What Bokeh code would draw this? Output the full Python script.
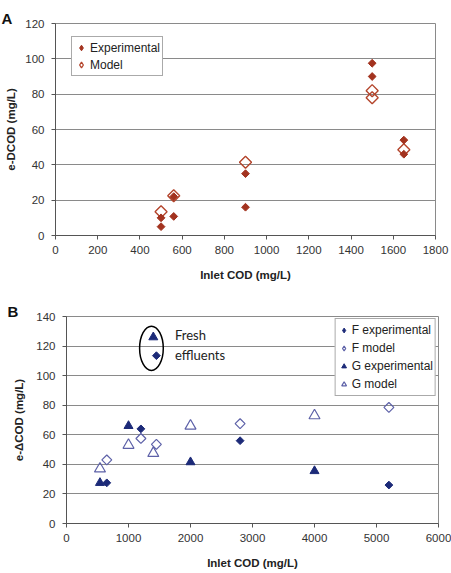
import numpy as np
from bokeh.plotting import figure
from bokeh.layouts import column
from bokeh.models import Range1d, FixedTicker, Legend, LegendItem
from bokeh.embed import file_html
from bokeh.resources import INLINE
from bokeh.core.properties import value

# ---- Panel A data ----
a_exp_x = [500, 500, 560, 560, 900, 900, 1500, 1500, 1650, 1650]
a_exp_y = [10, 5, 22, 10.8, 35, 16, 97.5, 90, 54, 46]
a_mod_x = [500, 560, 900, 1500, 1500, 1650]
a_mod_y = [13.5, 22.5, 41.5, 82, 78, 48.5]
a_xticks = [0, 200, 400, 600, 800, 1000, 1200, 1400, 1600, 1800]
a_yticks = [0, 20, 40, 60, 80, 100, 120]

# ---- Panel B data ----
f_exp_x = [650, 1200, 2800, 5200]
f_exp_y = [27.5, 64, 56, 26]
f_mod_x = [650, 1200, 1450, 2800, 5200]
f_mod_y = [43, 57.5, 53.5, 67.5, 78.5]
g_exp_x = [540, 1000, 2000, 4000]
g_exp_y = [27.5, 66, 41.5, 35.5]
g_mod_x = [540, 1000, 1400, 2000, 4000]
g_mod_y = [37, 53, 47.5, 66, 73]
fresh_g_x, fresh_g_y = [1400], [126]
fresh_f_x, fresh_f_y = [1450], [113.5]
b_xticks = [0, 1000, 2000, 3000, 4000, 5000, 6000]
b_yticks = [0, 20, 40, 60, 80, 100, 120, 140]

RED = "#a3331f"
RED_OPEN = "#b4452c"
NAVY = "#1c2a78"
NAVY_OPEN = "#5d61a8"
FONT = "Liberation Sans"
DIAMOND = np.pi / 4


def style(p, xticks, yticks, ylabel, letter, letter_offset, ylabel_standoff):
    p.xgrid.visible = False
    p.ygrid.grid_line_color = "#8a8a8a"
    p.ygrid.grid_line_width = 1
    p.ygrid.ticker = FixedTicker(ticks=yticks)
    p.outline_line_color = "#8a8a8a"
    p.outline_line_width = 1
    p.background_fill_color = "white"
    p.border_fill_color = "white"
    p.xaxis.ticker = FixedTicker(ticks=xticks)
    p.yaxis.ticker = FixedTicker(ticks=yticks)
    for ax in (p.xaxis[0], p.yaxis[0]):
        ax.axis_line_color = "#555555"
        ax.major_tick_line_color = "#555555"
        ax.major_tick_in = 0
        ax.major_tick_out = 4
        ax.minor_tick_line_color = None
        ax.major_label_text_font = FONT
        ax.major_label_text_font_size = "11.5px"
        ax.major_label_text_color = "#333333"
        ax.axis_label_text_font = FONT
        ax.axis_label_text_font_size = "11.5px"
        ax.axis_label_text_font_style = "bold"
        ax.axis_label_text_color = "#222222"
    p.xaxis.axis_label = "Inlet COD (mg/L)"
    p.yaxis.axis_label = ylabel
    p.xaxis.major_label_standoff = 6
    p.yaxis.major_label_standoff = 7
    p.xaxis.axis_label_standoff = 12
    p.yaxis.axis_label_standoff = ylabel_standoff
    p.title.text = letter
    p.title.align = "left"
    p.title.offset = letter_offset
    p.title.standoff = -6
    p.title.text_font = FONT
    p.title.text_font_size = "15px"
    p.title.text_font_style = "bold"
    p.title.text_color = "#111111"


def legend(items, location, margin, gw, gh):
    return Legend(items=items, location=location, border_line_color="#555555",
                  border_line_width=1, background_fill_color="white",
                  background_fill_alpha=1.0, inactive_fill_alpha=0.0,
                  label_text_font=FONT, label_text_font_size="12px",
                  label_text_color="#222222", glyph_width=gw, glyph_height=gh,
                  label_height=14, spacing=0, padding=2, margin=margin, label_standoff=2)


# ---- Panel A ----
pa = figure(width=451, height=290, x_range=Range1d(0, 1800), y_range=Range1d(0, 120),
            output_backend="svg", toolbar_location=None, frame_align=False,
            min_border_left=55, min_border_right=16, min_border_top=23, min_border_bottom=55)
style(pa, a_xticks, a_yticks, "e-DCOD (mg/L)", "A", -54, 5)

pa.scatter(a_mod_x, a_mod_y, marker="square", angle=DIAMOND, size=8.5,
           fill_color="white", fill_alpha=0.0, line_color=RED_OPEN, line_width=1.4)
pa.scatter(a_exp_x, a_exp_y, marker="square", angle=DIAMOND, size=5.5,
           fill_color=RED, line_color=RED, line_width=1)

# diamond keys for the legend (hidden in the plot area)
ka_exp = pa.scatter(a_exp_x[:1], a_exp_y[:1], marker="diamond", fill_color=RED,
                    line_color=RED, visible=False)
ka_mod = pa.scatter(a_mod_x[:1], a_mod_y[:1], marker="diamond", fill_color="white",
                    line_color=RED_OPEN, line_width=1.3, visible=False)
pa.add_layout(legend([LegendItem(label="Experimental", renderers=[ka_exp]),
                      LegendItem(label="Model", renderers=[ka_mod])],
                     (16, 159), 0, 14, 17))

# ---- Panel B ----
pb = figure(width=451, height=283, x_range=Range1d(0, 6000), y_range=Range1d(0, 140),
            output_backend="svg", toolbar_location=None, frame_align=False,
            min_border_left=66, min_border_right=13, min_border_top=26, min_border_bottom=50)
style(pb, b_xticks, b_yticks, "e-\u0394COD (mg/L)", "B", -59, 8)

pb.scatter(f_exp_x, f_exp_y, marker="square", angle=DIAMOND, size=5.5,
           fill_color=NAVY, line_color=NAVY)
pb.scatter(f_mod_x, f_mod_y, marker="square", angle=DIAMOND, size=7,
           fill_color="white", fill_alpha=0.0, line_color=NAVY_OPEN, line_width=1.2)
rg_exp = pb.scatter(g_exp_x, g_exp_y, marker="triangle", size=9,
                    fill_color=NAVY, line_color=NAVY)
rg_mod = pb.scatter(g_mod_x, g_mod_y, marker="triangle", size=11,
                    fill_color="white", fill_alpha=0.0, line_color=NAVY_OPEN, line_width=1.2)

# fresh-effluent callout
pb.scatter(fresh_g_x, fresh_g_y, marker="triangle", size=9, fill_color=NAVY, line_color=NAVY)
pb.scatter(fresh_f_x, fresh_f_y, marker="square", angle=DIAMOND, size=5.5,
           fill_color=NAVY, line_color=NAVY)
pb.ellipse(x=[1370], y=[118.5], width=[382], height=[30], fill_color=None,
           line_color="black", line_width=1.5)
pb.text(x=[1750, 1750], y=[127.6, 113.7], text=["Fresh", "effluents"],
        text_font=value("Lato"), text_font_size="13px", text_baseline="middle",
        text_color="#222222")

kb_fexp = pb.scatter(f_exp_x[:1], f_exp_y[:1], marker="diamond", fill_color=NAVY,
                     line_color=NAVY, visible=False)
kb_fmod = pb.scatter(f_mod_x[:1], f_mod_y[:1], marker="diamond", fill_color="white",
                     line_color=NAVY_OPEN, line_width=1.2, visible=False)
pb.add_layout(legend([LegendItem(label="F experimental", renderers=[kb_fexp]),
                      LegendItem(label="F model", renderers=[kb_fmod]),
                      LegendItem(label="G experimental", renderers=[rg_exp]),
                      LegendItem(label="G model", renderers=[rg_mod])],
                     "top_right", 2, 12, 18))

layout = column(pa, pb, spacing=0)
open("out.html", "w").write(file_html(layout, INLINE))
